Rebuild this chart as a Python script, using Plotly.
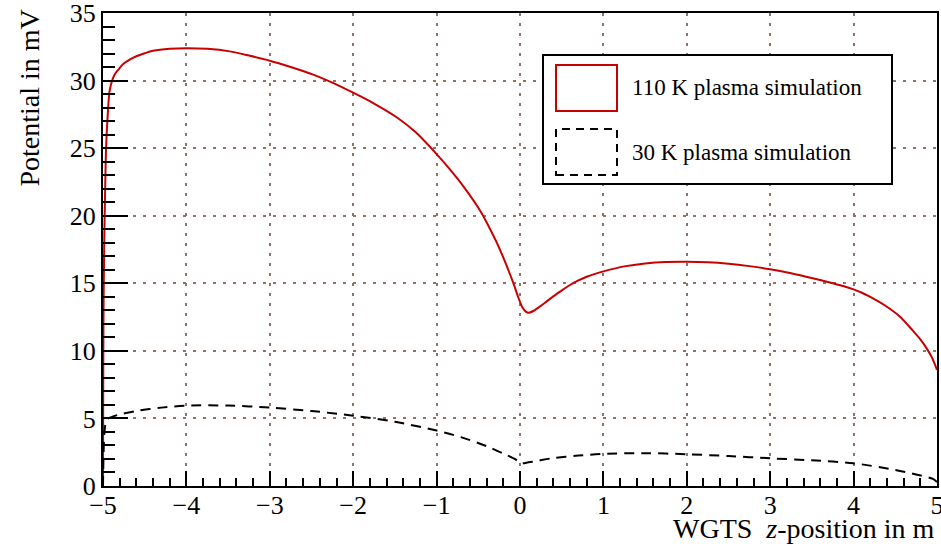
import plotly.graph_objects as go

# WGTS z-position (m) and electric potential (mV) for the two plasma simulations
z_110 = [-5.0, -4.998, -4.995, -4.99, -4.983, -4.973, -4.963, -4.943, -4.922, -4.89,
         -4.862, -4.81, -4.762, -4.68, -4.6, -4.5, -4.4, -4.2, -4.0, -3.75, -3.48,
         -3.25, -3.0, -2.75, -2.48, -2.25, -2.0, -1.75, -1.47, -1.25, -1.0, -0.85,
         -0.67, -0.47, -0.37, -0.27, -0.17, -0.07, -0.02, 0.03, 0.07, 0.1, 0.16, 0.22,
         0.3, 0.38, 0.48, 0.58, 0.7, 0.8, 0.9, 1.0, 1.25, 1.5, 1.75, 2.0, 2.25, 2.5,
         2.75, 3.0, 3.25, 3.51, 3.75, 3.875, 4.0, 4.1, 4.2, 4.39, 4.55, 4.71, 4.8,
         4.87, 4.94, 5.0]
phi_110 = [0.0, 6.0, 11.7, 15.5, 18.9, 22.3, 25.05, 27.5, 29.2, 30.0,
           30.44, 30.85, 31.2, 31.55, 31.8, 32.02, 32.2, 32.35, 32.4, 32.35, 32.16,
           31.85, 31.47, 31.0, 30.44, 29.85, 29.1, 28.3, 27.25, 26.17, 24.56, 23.5,
           22.1, 20.3, 19.15, 17.9, 16.45, 14.85, 13.95, 13.2, 12.9, 12.82, 12.95, 13.2,
           13.56, 13.94, 14.38, 14.8, 15.21, 15.48, 15.7, 15.88, 16.25, 16.47, 16.58,
           16.6, 16.56, 16.45, 16.27, 16.04, 15.74, 15.37, 15.0, 14.8, 14.55, 14.3,
           13.99, 13.3, 12.56, 11.5, 10.85, 10.24, 9.5, 8.6]

z_30 = [-5.0, -4.995, -4.985, -4.97, -4.95, -4.9, -4.8, -4.6, -4.3, -4.0, -3.5, -3.0,
        -2.5, -2.0, -1.5, -1.0, -0.7, -0.4, -0.2, -0.05, 0.0, 0.03, 0.1, 0.2, 0.38,
        0.7, 1.0, 1.5, 2.0, 2.5, 3.0, 3.5, 4.0, 4.5, 4.75, 4.95, 5.0]
phi_30 = [0.0, 2.0, 3.8, 4.6, 4.95, 5.1, 5.3, 5.55, 5.8, 5.95, 5.95, 5.8,
          5.55, 5.2, 4.75, 4.1, 3.6, 2.95, 2.4, 1.95, 1.7, 1.68, 1.75, 1.85, 2.05,
          2.25, 2.38, 2.43, 2.35, 2.22, 2.05, 1.9, 1.68, 1.19, 0.85, 0.52, 0.3]

series_names = ["110 K plasma simulation", "30 K plasma simulation"]
x_ticks = [-5, -4, -3, -2, -1, 0, 1, 2, 3, 4, 5]
y_ticks = [0, 5, 10, 15, 20, 25, 30, 35]

RED = "#c80000"
GRID = "#8f7262"
FONT = "Liberation Serif"

W, H = 941, 550
L, R, T, B = 103, 4, 13, 64
PW, PH = W - L - R, H - T - B


def px(xp):
    return (xp - L) / PW


def py(yp):
    return (H - B - yp) / PH


fig = go.Figure()
fig.add_trace(go.Scatter(x=z_110, y=phi_110, mode="lines", name=series_names[0],
                         line=dict(color=RED, width=2, shape="spline", smoothing=0.8)))
fig.add_trace(go.Scatter(x=z_30, y=phi_30, mode="lines", name=series_names[1],
                         line=dict(color="black", width=2, dash="10px,7px",
                                   shape="spline", smoothing=0.8)))

axis_common = dict(
    automargin=False, ticklabeloverflow="allow",
    showline=True, linecolor="black", linewidth=2, mirror=True,
    showgrid=True, gridcolor=GRID, gridwidth=2, griddash="3px,7px",
    zeroline=False, ticks="inside", tickcolor="black", tickwidth=2,
    tickfont=dict(family=FONT, size=26, color="black"),
)

fig.update_xaxes(range=[-5, 5], tickvals=x_ticks, ticklen=15, ticklabelstandoff=-5,
                 minor=dict(dtick=0.2, ticks="inside", ticklen=8, tickwidth=2,
                            tickcolor="black", showgrid=False),
                 **axis_common)
fig.update_yaxes(range=[0, 35], tickvals=y_ticks, ticklen=25,
                 minor=dict(dtick=1, ticks="inside", ticklen=12, tickwidth=2,
                            tickcolor="black", showgrid=False),
                 **axis_common)

annotations = [
    dict(text="WGTS&nbsp; <i>z</i>-position in m", x=1.0, y=py(528), xref="paper", yref="paper",
         xanchor="right", yanchor="middle", showarrow=False,
         font=dict(family=FONT, size=28, color="black")),
    dict(text="Potential in mV", x=px(29), y=py(8), xref="paper", yref="paper",
         xanchor="center", yanchor="top", textangle=-90, showarrow=False,
         font=dict(family=FONT, size=28, color="black")),
    dict(text=series_names[0], x=px(630), y=py(87), xref="paper", yref="paper",
         xanchor="left", yanchor="middle", showarrow=False,
         font=dict(family=FONT, size=23, color="black")),
    dict(text=series_names[1], x=px(630), y=py(152), xref="paper", yref="paper",
         xanchor="left", yanchor="middle", showarrow=False,
         font=dict(family=FONT, size=23, color="black")),
]

shapes = [
    dict(type="rect", xref="paper", yref="paper", x0=px(543), x1=px(892), y0=py(184), y1=py(55),
         line=dict(color="black", width=2), fillcolor="white", layer="above"),
    dict(type="rect", xref="paper", yref="paper", x0=px(556), x1=px(617), y0=py(111), y1=py(65),
         line=dict(color=RED, width=2), fillcolor="white", layer="above"),
    dict(type="rect", xref="paper", yref="paper", x0=px(556), x1=px(617), y0=py(175), y1=py(129),
         line=dict(color="black", width=2, dash="8px,6px"), fillcolor="white", layer="above"),
]

fig.update_layout(
    width=W, height=H, margin=dict(l=L, r=R, t=T, b=B),
    paper_bgcolor="white", plot_bgcolor="white", showlegend=False,
    annotations=annotations, shapes=shapes,
)

fig.write_html("out.html")
